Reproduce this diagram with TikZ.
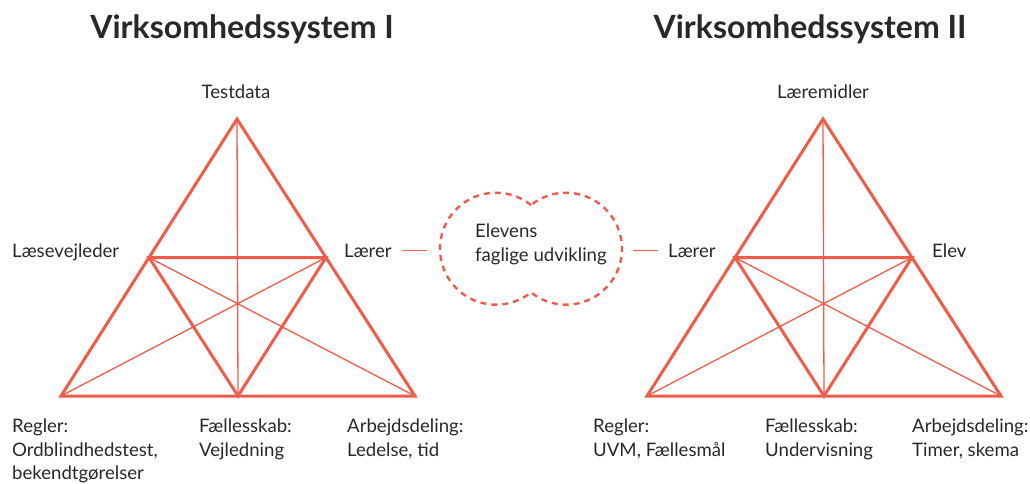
\documentclass[tikz,border=0pt]{standalone}
\usepackage{fontspec}
\setmainfont{Lato}
\usetikzlibrary{calc}
\definecolor{coral}{RGB}{238,92,76}
\definecolor{ink}{RGB}{40,40,40}
\begin{document}
\begin{tikzpicture}[x=1pt,y=-1pt]
        % Styles
        \tikzset{
          outer line/.style={coral,line width=3pt},
          inner line/.style={coral,line width=1.3pt},
          link/.style={coral,line width=1.3pt},
          cloud line/.style={coral,line width=2.4pt,dash pattern=on 6pt off 5pt},
          label text/.style={ink,font=\fontsize{18.6}{23.5}\selectfont,inner sep=0pt,align=left},
          title text/.style={ink,font=\fontsize{32}{36}\selectfont\bfseries,inner sep=0pt}
        }
        \useasboundingbox (0,0) rectangle (1030,483);
        %The two triangles
        \foreach \sys/\dx in {I/0,II/586}{
          \begin{scope}[xshift=\dx pt]
            \coordinate (top\sys) at (237,119);
            \coordinate (bl\sys) at (61,396);
            \coordinate (br\sys) at (415,396);
            \coordinate (bm\sys) at ($(bl\sys)!0.5!(br\sys)$);
            \coordinate (ml\sys) at ($(top\sys)!0.5!(bl\sys)$);
            \coordinate (mr\sys) at ($(top\sys)!0.5!(br\sys)$);
            \draw[inner line] (top\sys) -- (bm\sys) (bl\sys) -- (mr\sys) (br\sys) -- (ml\sys);
            \draw[outer line] (top\sys) -- (bl\sys) -- (br\sys) -- cycle;
            \draw[outer line] (ml\sys) -- (mr\sys) -- (bm\sys) -- cycle;
          \end{scope}
        }
        % Titles
        \node[title text,anchor=base] (titleI) at (242,38) {Virksomhedssystem I};
        \node[title text,anchor=base] (titleII) at (810,38) {Virksomhedssystem II};
        % Corner labels
        \node[label text,anchor=base] (testdata) at (236,98) {Testdata};
        \node[label text,anchor=base west] (laesevejleder) at (12,257) {Læsevejleder};
        \node[label text,anchor=base west] (laererI) at (344,257) {Lærer};
        \node[label text,anchor=base] (laeremidler) at (823,98) {Læremidler};
        \node[label text,anchor=base west] (laererII) at (668,257) {Lærer};
        \node[label text,anchor=base west] (elev) at (932,257) {Elev};
        % Bottom labels
        \node[label text,anchor=north west] (reglerI) at (12,419) {Regler:\\Ordblindhedstest,\\bekendtgørelser};
        \node[label text,anchor=north west] (faellesI) at (199,419) {Fællesskab:\\Vejledning};
        \node[label text,anchor=north west] (arbejdI) at (347,419) {Arbejdsdeling:\\Ledelse, tid};
        \node[label text,anchor=north west] (reglerII) at (593,419) {Regler:\\UVM, Fællesmål};
        \node[label text,anchor=north west] (faellesII) at (765,419) {Fællesskab:\\Undervisning};
        \node[label text,anchor=north west] (arbejdII) at (912,419) {Arbejdsdeling:\\Timer, skema};
        % The cloud in the middle
        \node[minimum width=182pt,minimum height=112pt,inner sep=0pt] (cloud) at (531,249) {};
        \draw[cloud line] (531,205) arc[start angle=-51.3,end angle=-308.7,radius=56]
          arc[start angle=128.7,end angle=-128.7,radius=56] -- cycle;
        \node[label text,anchor=north west] (elevens) at (475,224) {Elevens\\faglige udvikling};
        \draw[link,shorten <=11pt,shorten >=13pt] (laererI.east) -- (laererI.east -| cloud.west);
        \draw[link,shorten <=11pt,shorten >=10pt] (laererII.west -| cloud.east) -- (laererII.west);
\end{tikzpicture}
\end{document}
